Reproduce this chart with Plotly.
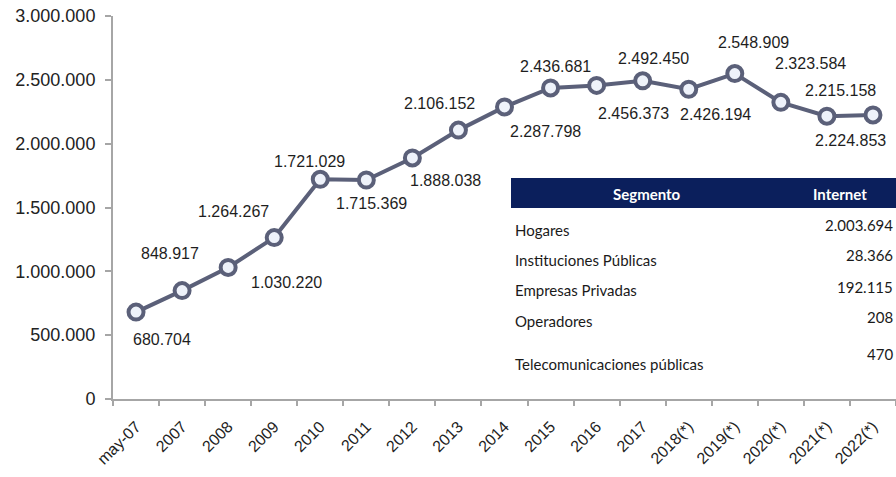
import plotly.graph_objects as go

# ---------------- data ----------------
categories = ["may-07", "2007", "2008", "2009", "2010", "2011", "2012", "2013", "2014",
              "2015", "2016", "2017", "2018(*)", "2019(*)", "2020(*)", "2021(*)", "2022(*)"]
connections = [680704, 848917, 1030220, 1264267, 1721029, 1715369, 1888038, 2106152,
               2287798, 2436681, 2456373, 2492450, 2426194, 2548909, 2323584, 2215158, 2224853]

segments = ["Hogares", "Instituciones Públicas", "Empresas Privadas", "Operadores",
            "Telecomunicaciones públicas"]
internet_values = [2003694, 28366, 192115, 208, 470]

table_header = ["Segmento", "Internet"]

# ---------------- styling / layout helpers ----------------
W, H = 896, 477
ML, MR, MT, MB = 113, 0, 16, 78
PW, PH = W - ML - MR, H - MT - MB

# label offsets (pixels, dx right, dy down) relative to each point
label_offsets = [(26, 27), (-12, -37), (58, 15), (-41, -26), (-11, -18), (5, 23), (33, 23),
                 (-19, -27), (41, 25), (5, -21), (37, 28), (11, -22), (27, 25), (19, -31),
                 (30, -39), (14, -26), (-22, 26)]


def fmt(v):
    return f"{v:,}".replace(",", ".")


def px_x(px):
    return (px - ML) / PW


def px_y(py):
    return (H - MB - py) / PH


LINE_COLOR = "#5b6079"
AXIS_COLOR = "#a6a6a6"
idx = list(range(len(categories)))

fig = go.Figure()
fig.add_trace(go.Scatter(
    x=idx, y=connections, mode="lines+markers",
    line=dict(color=LINE_COLOR, width=4),
    marker=dict(size=15, color="#eef2fa", line=dict(color=LINE_COLOR, width=4)),
    text=categories, hovertemplate="%{text}: %{y}<extra></extra>", showlegend=False,
))

annotations = []
for i, val, (dx, dy) in zip(idx, connections, label_offsets):
    annotations.append(dict(
        x=i, y=val, xref="x", yref="y", text=fmt(val), showarrow=False,
        xshift=dx, yshift=-dy, xanchor="center", yanchor="middle",
        font=dict(family="Liberation Sans, Arial", size=16, color="#1e1e1e"),
    ))

# table
shapes = [dict(type="rect", xref="paper", yref="paper",
               x0=px_x(511), x1=px_x(900), y0=px_y(208), y1=px_y(178),
               fillcolor="#0b1f5c", line=dict(width=0), layer="above")]

tfont = "Lato, Open Sans, sans-serif"
annotations.append(dict(x=px_x(647), y=px_y(194), xref="paper", yref="paper",
                        text=f"<b>{table_header[0]}</b>", showarrow=False,
                        xanchor="center", yanchor="middle",
                        font=dict(family=tfont, size=15, color="white")))
annotations.append(dict(x=px_x(840), y=px_y(194), xref="paper", yref="paper",
                        text=f"<b>{table_header[1]}</b>", showarrow=False,
                        xanchor="center", yanchor="middle",
                        font=dict(family=tfont, size=15, color="white")))

row_label_y = [230, 260, 290, 321, 364]
row_value_y = [225, 255, 287, 317, 354]
for seg, val, ly, vy in zip(segments, internet_values, row_label_y, row_value_y):
    annotations.append(dict(x=px_x(513), y=px_y(ly), xref="paper", yref="paper",
                            text=seg, showarrow=False, xanchor="left", yanchor="middle",
                            font=dict(family=tfont, size=15, color="#1a1a1a")))
    annotations.append(dict(x=px_x(895), y=px_y(vy), xref="paper", yref="paper",
                            text=fmt(val), showarrow=False, xanchor="right", yanchor="middle",
                            font=dict(family=tfont, size=15, color="#1a1a1a")))

fig.update_layout(
    width=W, height=H,
    margin=dict(l=ML, r=MR, t=MT, b=MB, autoexpand=False),
    paper_bgcolor="white", plot_bgcolor="white",
    separators=",.",
    showlegend=False,
    annotations=annotations,
    shapes=shapes,
    xaxis=dict(
        range=[-0.5, len(categories) - 0.5],
        tickmode="array", tickvals=idx, ticktext=categories,
        showline=True, linecolor=AXIS_COLOR, linewidth=2,
        ticks="", showgrid=False, zeroline=False, automargin=False,
        tickangle=-45, ticklabelstandoff=10,
        tickfont=dict(family="Liberation Sans, Arial", size=16, color="#222222"),
    ),
    # secondary axis used only to draw tick marks at category boundaries
    xaxis2=dict(
        overlaying="x", matches="x", side="bottom", anchor="y",
        tickmode="array", tickvals=[i - 0.5 for i in idx] + [len(categories) - 0.5],
        showticklabels=False, ticks="outside", ticklen=6, tickcolor=AXIS_COLOR,
        tickwidth=1.5, showgrid=False, zeroline=False, showline=False,
    ),
    yaxis=dict(
        range=[0, 3000000], dtick=500000, tick0=0, tickformat=",d",
        showline=True, linecolor=AXIS_COLOR, linewidth=2,
        ticks="outside", ticklen=6, tickcolor=AXIS_COLOR, tickwidth=1.5,
        showgrid=False, zeroline=False, automargin=False, ticklabelstandoff=6,
        tickfont=dict(family="Liberation Sans, Arial", size=18, color="#222222"),
    ),
)
# invisible trace on xaxis2 so the secondary axis is rendered
fig.add_trace(go.Scatter(x=[idx[0]], y=[connections[0]], xaxis="x2", mode="markers",
                         marker=dict(opacity=0), hoverinfo="skip", showlegend=False))

fig.write_html("out.html", config={"displayModeBar": False},
               post_script="document.body.style.margin='0px';")
